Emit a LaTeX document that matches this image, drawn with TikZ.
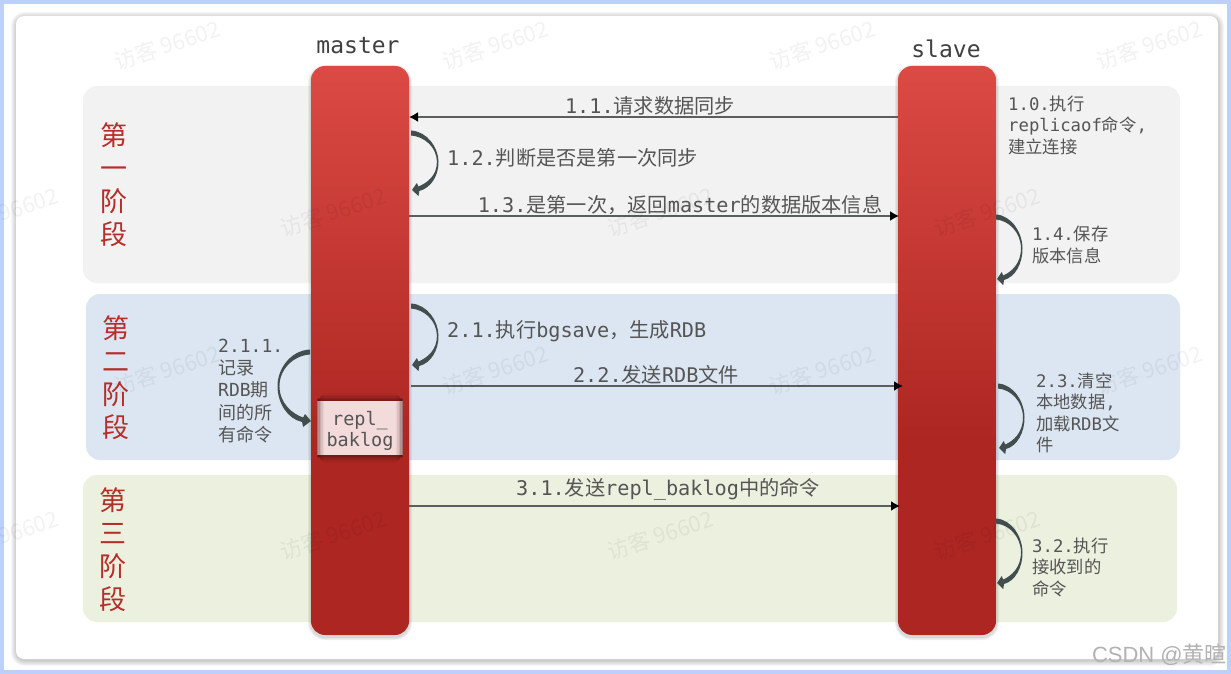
\documentclass[tikz,border=0pt]{standalone}
\usepackage{fontspec}
\usepackage{xcolor}
\usetikzlibrary{calc}
\usetikzlibrary{arrows.meta}
\setmainfont{DejaVu Sans Mono}
\newfontfamily\cjk{Noto Sans CJK SC}
\newfontfamily\sans{Liberation Sans}
\newcommand{\zh}[1]{{\cjk #1}}
\definecolor{myframe}{HTML}{BDD0FB}
\definecolor{mygrey}{HTML}{F2F2F2}
\definecolor{myblue}{HTML}{DCE6F2}
\definecolor{mygreen}{HTML}{EBF1DE}
\definecolor{mytop}{HTML}{DC4A44}
\definecolor{mybot}{HTML}{AD2622}
\definecolor{mystage}{HTML}{B52E29}
\definecolor{mytext}{HTML}{555555}
\definecolor{myline}{HTML}{5A5F5E}
\definecolor{myloop}{HTML}{414E4D}
\definecolor{mypink}{HTML}{F3DBDB}
\pgfdeclareverticalshading{barshade}{100bp}{color(0bp)=(mybot); color(25bp)=(mybot); color(42bp)=(mybot); color(75bp)=(mytop); color(100bp)=(mytop)}
\tikzset{
  >=latex,
  panel/.style={rounded corners=14},
  bar/.style={rounded corners=14,shading=barshade,minimum width=98,minimum height=569,inner sep=0,outer sep=0},
  connect arrow/.style={-{Latex[length=9,width=10,black]},line width=1.6,myline},
  loop arrow/.style={myloop},
  stage/.style={mystage,align=center,inner sep=0,font=\cjk\fontsize{27}{33}\selectfont},
  name label/.style={black!75,inner sep=0,font=\fontsize{23}{27}\selectfont},
  msg/.style={mytext,inner sep=0,font=\fontsize{20.2}{24}\selectfont},
  note/.style={mytext,anchor=west,align=left,inner sep=0,font=\fontsize{17.3}{21.5}\selectfont},
  mark text/.style={black,opacity=.05,rotate=18,inner sep=0,font=\cjk\fontsize{22}{26}\selectfont}
}
% bent arrow from one point of a bar back to the same bar
\newcommand{\selfloop}[3]{
  \fill[loop arrow] ($(#1)+(0,-2.5)$)
    .. controls ($(#1)+(.6*#3,-1.5)$) and ($(#1)!.25!(#2)+(#3,0)$) .. ($(#1)!.5!(#2)+(#3,0)$)
    .. controls ($(#1)!.75!(#2)+(#3,0)$) and ($(#2)+(.7*#3,-2)$) .. ($(#2)+(.27*#3,1)$)
    -- ($(#2)+(.24*#3,6)$) -- (#2) -- ($(#2)+(.18*#3,-7)$) -- ($(#2)+(.24*#3,-3.5)$)
    .. controls ($(#2)+(.55*#3,-7)$) and ($(#1)!.75!(#2)+(.94*#3,0)$) .. ($(#1)!.5!(#2)+(.94*#3,0)$)
    .. controls ($(#1)!.25!(#2)+(.94*#3,0)$) and ($(#1)+(.5*#3,3.5)$) .. ($(#1)+(0,2.5)$) -- cycle;
}
\begin{document}
\begin{tikzpicture}[x=1pt,y=-1pt]
    \useasboundingbox (0,0) rectangle (1231,674);
    \fill[white] (0,0) rectangle (1231,674);
    \draw[myframe,line width=3.5] (2,2) rectangle (1229,672);
    % card
    \foreach \w in {2,4,...,12}
        \draw[black,opacity=.035,line width=\w,rounded corners=8] (17,18) rectangle (1218,660);
    \fill[white,rounded corners=8] (16,16) rectangle (1218,659);
    % phases
    \fill[mygrey,panel] (83,86) rectangle (1180,283);
    \fill[myblue,panel] (86,294) rectangle (1180,460);
    \fill[mygreen,panel] (83,475) rectangle (1177,622);
    \node[stage] (st1) at (114,184.5) {第\\一\\阶\\段};
    \node[stage] (st2) at (116,378) {第\\二\\阶\\段};
    \node[stage] (st3) at (113,550) {第\\三\\阶\\段};
    % bars
    \foreach \w in {2,4,6}{
        \draw[black,opacity=.05,line width=\w,rounded corners=14] (311,68) rectangle (409,637);
        \draw[black,opacity=.05,line width=\w,rounded corners=14] (898,68) rectangle (996,637);
    }
    \node[bar] (master) at (360,350.5) {};
    \node[bar] (slave) at (947,350.5) {};
    \node[name label] (mname) at (358,46) {master};
    \node[name label] (sname) at (946,49) {slave};
    % end points
    \coordinate (s11) at (898,117);
    \coordinate (m11) at (409,117);
    \coordinate (m13) at (409,216);
    \coordinate (s13) at (899,216);
    \coordinate (m22) at (411,386);
    \coordinate (s22) at (903,386);
    \coordinate (m31) at (409,506);
    \coordinate (s31) at (900,506);
    \coordinate (m12a) at (411,133);
    \coordinate (m12b) at (412,190);
    \coordinate (m21a) at (411,306);
    \coordinate (m21b) at (412,365);
    \coordinate (s14a) at (996,217);
    \coordinate (s14b) at (997,279);
    \coordinate (s23a) at (998,386);
    \coordinate (s23b) at (999,448);
    \coordinate (s32a) at (996,521);
    \coordinate (s32b) at (997,583);
    \coordinate (m211a) at (310,352);
    \coordinate (m211b) at (311,421);
    % messages
    \draw[connect arrow] (s11) -- (m11);
    \draw[connect arrow] (m13) -- (s13);
    \draw[connect arrow] (m22) -- (s22);
    \draw[connect arrow] (m31) -- (s31);
    \selfloop{m12a}{m12b}{27}
    \selfloop{m21a}{m21b}{27}
    \selfloop{s14a}{s14b}{26}
    \selfloop{s23a}{s23b}{26}
    \selfloop{s32a}{s32b}{26}
    \selfloop{m211a}{m211b}{-33}
    \node[msg] (l11) at (650,106) {1.1.\zh{请求数据同步}};
    \node[msg,anchor=west] (l12) at (447,158) {1.2.\zh{判断是否是第一次同步}};
    \node[msg] (l13) at (680,205) {1.3.\zh{是第一次，返回}master\zh{的数据版本信息}};
    \node[msg,anchor=west] (l21) at (447,331) {2.1.\zh{执行}bgsave\zh{，生成}RDB};
    \node[msg] (l22) at (656,375) {2.2.\zh{发送}RDB\zh{文件}};
    \node[msg] (l31) at (668,489) {3.1.\zh{发送}repl\_baklog\zh{中的命令}};
    \node[note] (l10) at (1008,125) {1.0.\zh{执行}\\replicaof\zh{命令},\\\zh{建立连接}};
    \node[note] (l14) at (1032,245) {1.4.\zh{保存}\\\zh{版本信息}};
    \node[note] (l23) at (1036,413) {2.3.\zh{清空}\\\zh{本地数据},\\\zh{加载}RDB\zh{文}\\\zh{件}};
    \node[note] (l32) at (1032,567) {3.2.\zh{执行}\\\zh{接收到的}\\\zh{命令}};
    \node[note,font=\fontsize{18}{22.2}\selectfont] (l211) at (218,391) {2.1.1.\\\zh{记录}\\RDB\zh{期}\\\zh{间的所}\\\zh{有命令}};
    % buffer on the master bar
    \node[fill=mypink,minimum width=86,minimum height=54,inner sep=0] (repl) at (360,428) {};
    \foreach \i/\o in {0.75/.5,2.25/.36,3.75/.24,5.25/.13,6.75/.06}
        \draw[black!60!mybot,opacity=\o,line width=1.5] ($(repl.north west)+(\i,-\i)$) rectangle ($(repl.south east)+(-\i,\i)$);
    \node[msg,align=center,font=\fontsize{18.5}{21.5}\selectfont] (rtext) at (360,431) {repl\_\\baklog};
    % watermarks
    \foreach \x in {167,495,822,1149}{
        \node[mark text] at (\x,45) {访客 96602};
        \node[mark text] at (\x,370) {访客 96602};
    }
    \foreach \x in {5,333,660,987}{
        \node[mark text] at (\x,212) {访客 96602};
        \node[mark text] at (\x,535) {访客 96602};
    }
    \node[black!30,inner sep=0,anchor=east,font=\fontsize{22}{25}\selectfont] (csdn) at (1227,655) {{\sans CSDN @}\zh{黄暄}};
\end{tikzpicture}
\end{document}
